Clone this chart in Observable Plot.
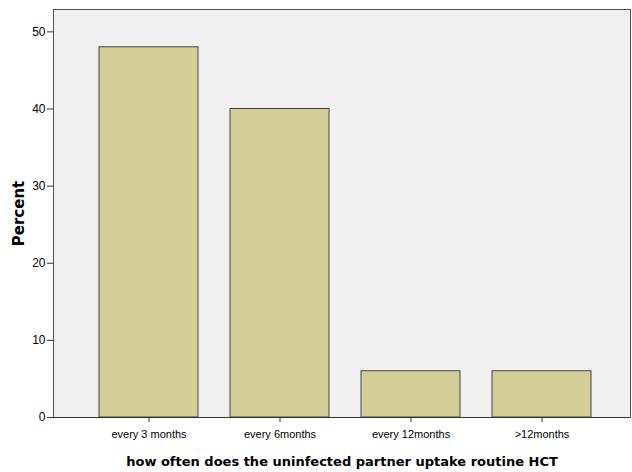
<!DOCTYPE html>
<html><head><meta charset="utf-8">
<script src="https://cdn.jsdelivr.net/npm/d3@7"></script>
<script src="https://cdn.jsdelivr.net/npm/@observablehq/plot@0.6"></script>
<style>
body{margin:0;background:#fff}
g[aria-label="y-axis label"] text, g[aria-label="x-axis label"] text{font-family:'DejaVu Sans',sans-serif;font-weight:bold;font-size:13px}
g[aria-label="y-axis label"] text{font-size:15px}
</style>
</head><body><div id="chart"></div>
<script>
const categories = ["every 3 months", "every 6months", "every 12months", ">12months"];
const percents = [48, 40, 6, 6];
const yTicks = [0, 10, 20, 30, 40, 50];
const xTitle = "how often does the uninfected partner uptake routine HCT";
const yTitle = "Percent";
const data = categories.map((c, i) => ({category: c, percent: percents[i]}));

const chart = Plot.plot({
  width: 632, height: 472,
  marginLeft: 53, marginRight: 2, marginTop: 9, marginBottom: 55,
  style: {fontFamily: "'Liberation Sans', Arial, sans-serif", fontSize: "11px", color: "#000", background: "#fff"},
  x: {domain: categories, paddingInner: 0.244, paddingOuter: 0.32, align: 0.536},
  y: {domain: [0, 52.9]},
  marks: [
    Plot.frame({fill: "#f0f0f0", stroke: "#555"}),
    Plot.barY(data, {x: "category", y: "percent", fill: "#d3ce97", stroke: "#444", strokeWidth: 1}),
    Plot.axisY({ticks: yTicks, tickSize: 6, tickPadding: 2, fontSize: 12, stroke: "#333",
      label: yTitle, labelAnchor: "center", labelArrow: "none", labelOffset: 40}),
    Plot.axisX({tickSize: 5, tickPadding: 8, stroke: "#333",
      label: xTitle, labelAnchor: "center", labelArrow: "none", labelOffset: 48}),
    Plot.ruleY([0], {stroke: "#333"})
  ]
});
document.getElementById("chart").append(chart);
</script>
</body></html>
